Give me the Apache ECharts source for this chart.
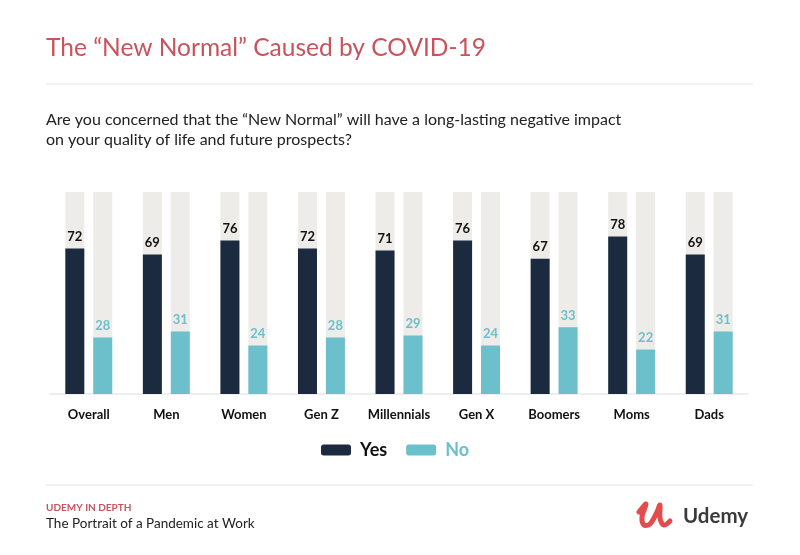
<!DOCTYPE html>
<html><head><meta charset="utf-8">
<script src="https://cdn.jsdelivr.net/npm/echarts@6/dist/echarts.min.js"></script>
<style>html,body{margin:0;padding:0;background:#fff}#c{width:800px;height:555px}</style>
</head><body><div id="c"></div>
<script>
const categories = ['Overall','Men','Women','Gen Z','Millennials','Gen X','Boomers','Moms','Dads'];
const yesValues = [72,69,76,72,71,76,67,78,69];
const noValues = [28,31,24,28,29,24,33,22,31];
const seriesNames = ['Yes','No'];

const NAVY = '#1b2a3f', TEAL = '#6cc0cc', BG = '#eeece8', RED = '#c9535d';
const chart = echarts.init(document.getElementById('c'));
chart.setOption({
  animation: false,
  backgroundColor: '#fff',
  textStyle: { fontFamily: 'Lato' },
  title: [
    { text: 'The \u201CNew Normal\u201D Caused by COVID-19', left: 41, top: 31,
      textStyle: { color: RED, fontSize: 24.5, fontWeight: 'normal', fontFamily: 'Lato' } },
    { text: 'Are you concerned that the \u201CNew Normal\u201D will have a long-lasting negative impact\non your quality of life and future prospects?', left: 41, top: 105,
      textStyle: { color: '#222', fontSize: 16, fontWeight: 'normal', lineHeight: 20, fontFamily: 'Lato' } }
  ],
  legend: {
    top: 436, left: 316, itemWidth: 30, itemHeight: 11, itemGap: 19,
    data: [
      { name: seriesNames[0], textStyle: { color: '#111' } },
      { name: seriesNames[1], textStyle: { color: TEAL } }
    ],
    textStyle: { fontSize: 18, fontWeight: 'bold', padding: [0, 0, 0, 4] }
  },
  grid: { left: 50, width: 698, top: 192, bottom: 161 },
  xAxis: {
    type: 'category', data: categories,
    axisLine: { lineStyle: { color: '#eeeeee', width: 2 } },
    axisTick: { show: false },
    axisLabel: { color: '#111', fontWeight: 'bold', fontSize: 13, margin: 14, interval: 0 }
  },
  yAxis: { type: 'value', min: 0, max: 100, show: false, splitLine: { show: false } },
  series: [
    { name: seriesNames[0], type: 'bar', data: yesValues, barWidth: 19, barGap: '47%',
      itemStyle: { color: NAVY }, showBackground: true, backgroundStyle: { color: BG },
      label: { show: true, position: 'top', color: '#111', fontWeight: 'bold', fontSize: 13, distance: 5 } },
    { name: seriesNames[1], type: 'bar', data: noValues, barWidth: 19,
      itemStyle: { color: TEAL }, showBackground: true, backgroundStyle: { color: BG },
      label: { show: true, position: 'top', color: TEAL, fontWeight: 'bold', fontSize: 13, distance: 5 } }
  ],
  graphic: [
    { type: 'line', shape: { x1: 46, y1: 84, x2: 753, y2: 84 }, style: { stroke: '#eeeeee', lineWidth: 1.5 } },
    { type: 'line', shape: { x1: 46, y1: 485, x2: 753, y2: 485 }, style: { stroke: '#eeeeee', lineWidth: 1.5 } },
    { type: 'text', x: 46, y: 503, style: { text: 'UDEMY IN DEPTH', fill: RED, font: 'bold 10px Lato' } },
    { type: 'text', x: 46, y: 517, style: { text: 'The Portrait of a Pandemic at Work', fill: '#222', font: '13.5px Lato' } },
    { type: 'polyline', shape: { points: [[639,512],[646,504],[642,517],[644,525],[650,524],[657,512],[660,505],[660,518],[664,525],[670,521]], smooth: 0.35 },
      style: { stroke: '#e44b4d', lineWidth: 5, fill: null, lineCap: 'round', lineJoin: 'round' } },
    { type: 'text', x: 683, y: 506, style: { text: 'Udemy', fill: '#3a3a3a', font: 'bold 20.5px Lato' } }
  ]
});
</script></body></html>
